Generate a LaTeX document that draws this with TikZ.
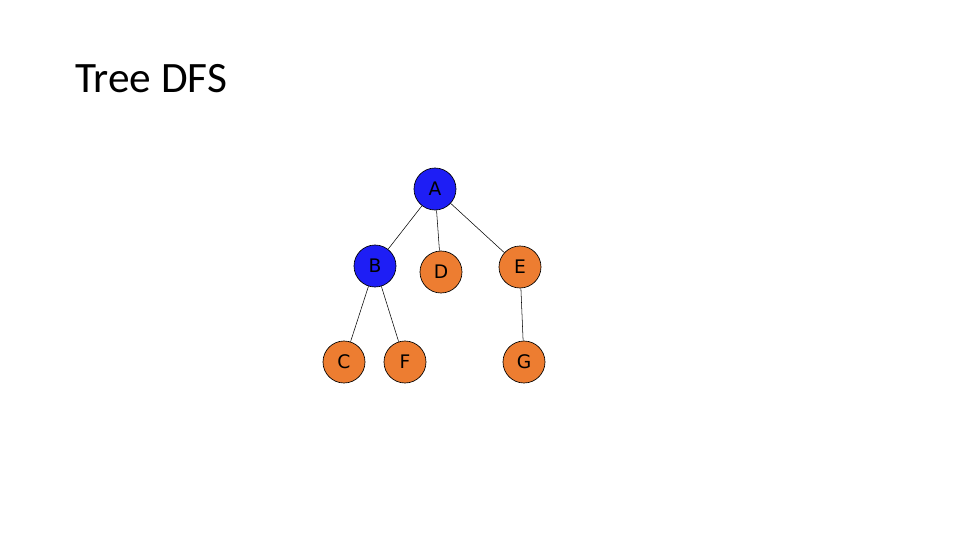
\documentclass[tikz,border=0pt]{standalone}
\usepackage{fontspec}
\setmainfont{Carlito}
\newfontfamily\nodefont{DejaVu Sans}
\usepackage{tikz}
\usetikzlibrary{positioning}

\definecolor{visited}{RGB}{30,30,245}
\definecolor{open}{RGB}{237,125,49}

\begin{document}
\begin{tikzpicture}[
  x=0.75pt, y=-0.75pt,
  vert/.style={draw, circle, line width=0.5pt, minimum size=31.5pt, inner sep=0pt,
               font=\nodefont\fontsize{14}{16}\selectfont},
  seen/.style={vert, fill=visited},
  todo/.style={vert, fill=open},
  edge/.style={line width=0.4pt}
]
  \useasboundingbox (0,0) rectangle (960,540);
  \node[anchor=base west, inner sep=0pt, font=\fontsize{32.5}{38}\selectfont] (title) at (75,92) {Tree DFS};

  \node[seen] (a) at (435,189) {A};
  \node[seen] (b) at (375,266) {B};
  \node[todo] (d) at (441,272) {D};
  \node[todo] (e) at (520,267) {E};
  \node[todo] (c) at (344,362) {C};
  \node[todo] (f) at (405,362) {F};
  \node[todo] (g) at (524,362) {G};

  \draw[edge] (a) -- (b);
  \draw[edge] (a) -- (d);
  \draw[edge] (a) -- (e);
  \draw[edge] (b) -- (c);
  \draw[edge] (b) -- (f);
  \draw[edge] (e) -- (g);
\end{tikzpicture}
\end{document}
